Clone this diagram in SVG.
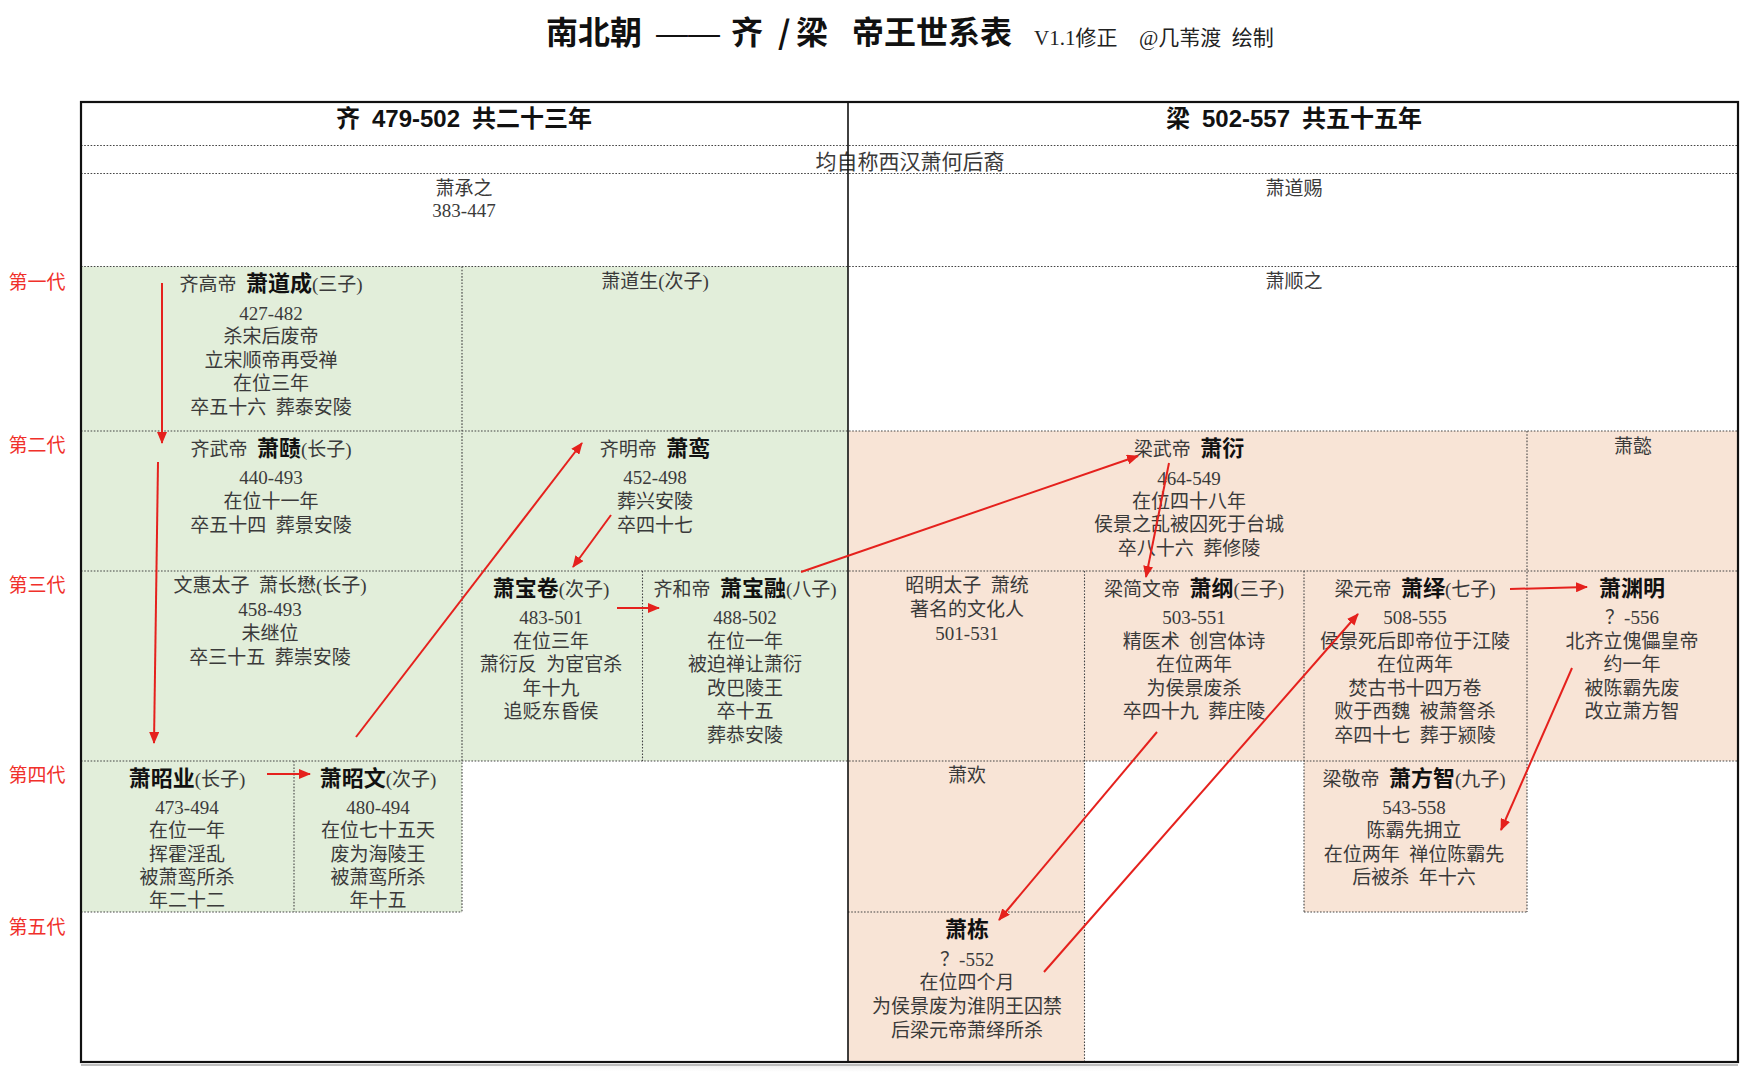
<svg xmlns="http://www.w3.org/2000/svg" width="1755" height="1080" viewBox="0 0 1755 1080">
<defs>
<style>
.t{font-family:"Liberation Serif","Noto Sans CJK SC",serif;font-size:19px;fill:#3a3a3a;text-anchor:middle}
.b{font-family:"Noto Sans CJK SC",sans-serif;font-weight:700;font-size:22px;fill:#111}
.g{font-family:"Noto Sans CJK SC",sans-serif;font-size:19px;fill:#f0302a;text-anchor:middle}
.h{font-family:"Liberation Sans","Noto Sans CJK SC",sans-serif;font-weight:700;font-size:24px;fill:#111;text-anchor:middle}
.ti{font-family:"Noto Sans CJK SC",sans-serif;font-weight:700;font-size:32px;fill:#111}
.st{font-family:"Liberation Serif","Noto Sans CJK SC",serif;font-size:21px;fill:#222}
.dot{stroke:#444;stroke-width:1.1;stroke-dasharray:1.6 1.6;fill:none}
.arr{stroke:#e5211d;stroke-width:2;fill:none;marker-end:url(#ah)}
.gr{fill:#e2eeda}
.pe{fill:#f8e4d6}
.wh{fill:#fff}
</style>
<marker id="ah" markerUnits="userSpaceOnUse" markerWidth="12" markerHeight="10" viewBox="0 0 12 10" refX="11" refY="5" orient="auto">
<path d="M0,0 L12,5 L0,10 z" fill="#e5211d"/>
</marker>
<radialGradient id="sh" cx="0.5" cy="0" r="0.5">
<stop offset="0" stop-color="#e9e9e9"/>
<stop offset="1" stop-color="#ffffff"/>
</radialGradient>
</defs>
<rect width="1755" height="1080" fill="#fff"/>
<rect x="300" y="1064" width="1150" height="16" fill="url(#sh)"/>

<g id="title">
<text class="ti" y="44"><tspan x="546">南北朝</tspan><tspan x="656" style="font-family:'Liberation Sans',sans-serif;font-weight:400">——</tspan><tspan x="731">齐</tspan><tspan x="778">/</tspan><tspan x="796">梁</tspan><tspan x="852">帝王世系表</tspan></text>
<text class="st" y="45"><tspan x="1034">V1.1修正</tspan><tspan x="1139">@几苇渡&#8194;绘制</tspan></text>
</g>

<g id="generations">
<text class="g" x="37" y="289">第一代</text>
<text class="g" x="37" y="452">第二代</text>
<text class="g" x="37" y="592">第三代</text>
<text class="g" x="37" y="782">第四代</text>
<text class="g" x="37" y="934">第五代</text>
</g>

<g id="headers">
<text class="h" x="464" y="127">齐&#8194;479-502&#8194;共二十三年</text>
<text class="h" x="1294" y="127">梁&#8194;502-557&#8194;共五十五年</text>
<text class="t" x="910" y="169" style="font-size:21px">均自称西汉萧何后裔</text>
</g>

<g id="n-xiaochengzhi">
<rect class="wh" x="81" y="173.5" width="767" height="93"/>
<text class="t" x="464" y="195">萧承之</text>
<text class="t" x="464" y="217">383-447</text>
</g>
<g id="n-xiaodaoci">
<rect class="wh" x="848" y="173.5" width="890" height="93"/>
<text class="t" x="1294" y="195">萧道赐</text>
</g>

<g id="n-xiaodaocheng">
<rect class="gr" x="81" y="266.5" width="381" height="164.5"/>
<text class="t" x="271" y="291">齐高帝&#8194;<tspan class="b">萧道成</tspan>(三子)</text>
<text class="t" x="271" y="319.5">427-482</text>
<text class="t" x="271" y="343">杀宋后废帝</text>
<text class="t" x="271" y="366.5">立宋顺帝再受禅</text>
<text class="t" x="271" y="390">在位三年</text>
<text class="t" x="271" y="413.5">卒五十六&#8194;葬泰安陵</text>
</g>
<g id="n-xiaodaosheng">
<rect class="gr" x="462" y="266.5" width="386" height="164.5"/>
<text class="t" x="655" y="288">萧道生(次子)</text>
</g>
<g id="n-xiaoshunzhi">
<rect class="wh" x="848" y="266.5" width="890" height="164.5"/>
<text class="t" x="1294" y="288">萧顺之</text>
</g>

<g id="n-xiaoze">
<rect class="gr" x="81" y="431" width="381" height="140"/>
<text class="t" x="271" y="455.5">齐武帝&#8194;<tspan class="b">萧赜</tspan>(长子)</text>
<text class="t" x="271" y="484">440-493</text>
<text class="t" x="271" y="507.5">在位十一年</text>
<text class="t" x="271" y="531.5">卒五十四&#8194;葬景安陵</text>
</g>
<g id="n-xiaoluan">
<rect class="gr" x="462" y="431" width="386" height="140"/>
<text class="t" x="655" y="455.5">齐明帝&#8194;<tspan class="b">萧鸾</tspan></text>
<text class="t" x="655" y="484">452-498</text>
<text class="t" x="655" y="507.5">葬兴安陵</text>
<text class="t" x="655" y="531.5">卒四十七</text>
</g>
<g id="n-xiaoyan">
<rect class="pe" x="848" y="431" width="679" height="140"/>
<text class="t" x="1189" y="456">梁武帝&#8194;<tspan class="b">萧衍</tspan></text>
<text class="t" x="1189" y="484.5">464-549</text>
<text class="t" x="1189" y="508">在位四十八年</text>
<text class="t" x="1189" y="531">侯景之乱被囚死于台城</text>
<text class="t" x="1189" y="554.5">卒八十六&#8194;葬修陵</text>
</g>
<g id="n-xiaoyi">
<rect class="pe" x="1527" y="431" width="211" height="140"/>
<text class="t" x="1633" y="453">萧懿</text>
</g>

<g id="n-xiaochangmao">
<rect class="gr" x="81" y="571" width="381" height="190"/>
<text class="t" x="270" y="592">文惠太子&#8194;萧长懋(长子)</text>
<text class="t" x="270" y="616">458-493</text>
<text class="t" x="270" y="639.5">未继位</text>
<text class="t" x="270" y="663.5">卒三十五&#8194;葬崇安陵</text>
</g>
<g id="n-xiaobaojuan">
<rect class="gr" x="462" y="571" width="180.5" height="190"/>
<text class="t" x="551" y="596"><tspan class="b">萧宝卷</tspan>(次子)</text>
<text class="t" x="551" y="624">483-501</text>
<text class="t" x="551" y="647.5">在位三年</text>
<text class="t" x="551" y="671">萧衍反&#8194;为宦官杀</text>
<text class="t" x="551" y="694.5">年十九</text>
<text class="t" x="551" y="718">追贬东昏侯</text>
</g>
<g id="n-xiaobaorong">
<rect class="gr" x="642.5" y="571" width="205.5" height="190"/>
<text class="t" x="745" y="596">齐和帝&#8194;<tspan class="b">萧宝融</tspan>(八子)</text>
<text class="t" x="745" y="624">488-502</text>
<text class="t" x="745" y="647.5">在位一年</text>
<text class="t" x="745" y="671">被迫禅让萧衍</text>
<text class="t" x="745" y="694.5">改巴陵王</text>
<text class="t" x="745" y="718">卒十五</text>
<text class="t" x="745" y="741.5">葬恭安陵</text>
</g>
<g id="n-xiaotong">
<rect class="pe" x="848" y="571" width="236.5" height="190"/>
<text class="t" x="967" y="592">昭明太子&#8194;萧统</text>
<text class="t" x="967" y="616">著名的文化人</text>
<text class="t" x="967" y="639.5">501-531</text>
</g>
<g id="n-xiaogang">
<rect class="pe" x="1084.5" y="571" width="219.5" height="190"/>
<text class="t" x="1194" y="596">梁简文帝&#8194;<tspan class="b">萧纲</tspan>(三子)</text>
<text class="t" x="1194" y="624">503-551</text>
<text class="t" x="1194" y="647.5">精医术&#8194;创宫体诗</text>
<text class="t" x="1194" y="671">在位两年</text>
<text class="t" x="1194" y="694.5">为侯景废杀</text>
<text class="t" x="1194" y="718">卒四十九&#8194;葬庄陵</text>
</g>
<g id="n-xiaoyi-yuandi">
<rect class="pe" x="1304" y="571" width="223" height="190"/>
<text class="t" x="1415" y="596">梁元帝&#8194;<tspan class="b">萧绎</tspan>(七子)</text>
<text class="t" x="1415" y="624">508-555</text>
<text class="t" x="1415" y="647.5">侯景死后即帝位于江陵</text>
<text class="t" x="1415" y="671">在位两年</text>
<text class="t" x="1415" y="694.5">焚古书十四万卷</text>
<text class="t" x="1415" y="718">败于西魏&#8194;被萧詧杀</text>
<text class="t" x="1415" y="741.5">卒四十七&#8194;葬于颍陵</text>
</g>
<g id="n-xiaoyuanming">
<rect class="pe" x="1527" y="571" width="211" height="190"/>
<text class="t" x="1632" y="596"><tspan class="b">萧渊明</tspan></text>
<text class="t" x="1632" y="624">？-556</text>
<text class="t" x="1632" y="647.5">北齐立傀儡皇帝</text>
<text class="t" x="1632" y="671">约一年</text>
<text class="t" x="1632" y="694.5">被陈霸先废</text>
<text class="t" x="1632" y="718">改立萧方智</text>
</g>

<g id="n-xiaozhaoye">
<rect class="gr" x="81" y="761" width="213" height="151"/>
<text class="t" x="187" y="785.5"><tspan class="b">萧昭业</tspan>(长子)</text>
<text class="t" x="187" y="813.5">473-494</text>
<text class="t" x="187" y="837">在位一年</text>
<text class="t" x="187" y="860.5">挥霍淫乱</text>
<text class="t" x="187" y="884">被萧鸾所杀</text>
<text class="t" x="187" y="907">年二十二</text>
</g>
<g id="n-xiaozhaowen">
<rect class="gr" x="294" y="761" width="168" height="151"/>
<text class="t" x="378" y="785.5"><tspan class="b">萧昭文</tspan>(次子)</text>
<text class="t" x="378" y="813.5">480-494</text>
<text class="t" x="378" y="837">在位七十五天</text>
<text class="t" x="378" y="860.5">废为海陵王</text>
<text class="t" x="378" y="884">被萧鸾所杀</text>
<text class="t" x="378" y="907">年十五</text>
</g>
<g id="n-xiaohuan">
<rect class="pe" x="848" y="761" width="236.5" height="151"/>
<text class="t" x="967" y="782">萧欢</text>
</g>
<g id="n-xiaofangzhi">
<rect class="pe" x="1304" y="761" width="223" height="151"/>
<text class="t" x="1414" y="785.5">梁敬帝&#8194;<tspan class="b">萧方智</tspan>(九子)</text>
<text class="t" x="1414" y="813.5">543-558</text>
<text class="t" x="1414" y="837">陈霸先拥立</text>
<text class="t" x="1414" y="860.5">在位两年&#8194;禅位陈霸先</text>
<text class="t" x="1414" y="884">后被杀&#8194;年十六</text>
</g>

<g id="n-xiaodong">
<rect class="pe" x="848" y="912" width="236.5" height="150"/>
<text class="t" x="967" y="937"><tspan class="b">萧栋</tspan></text>
<text class="t" x="967" y="965.5">？-552</text>
<text class="t" x="967" y="989">在位四个月</text>
<text class="t" x="967" y="1013">为侯景废为淮阴王囚禁</text>
<text class="t" x="967" y="1036.5">后梁元帝萧绎所杀</text>
</g>

<g id="grid">
<path class="dot" d="M81,145.5H1738 M81,173.5H1738 M81,266.5H1738 M81,431H1738 M81,571H1738 M81,761H1738 M81,912H462 M848,912H1084.5 M1304,912H1527"/>
<path class="dot" d="M462,266.5V912 M642.5,571V761 M294,761V912 M1084.5,571V1062 M1304,571V912 M1527,431V912"/>
<line x1="848" y1="102" x2="848" y2="1062" stroke="#111" stroke-width="1.6"/>
<rect x="81" y="102" width="1657" height="960" fill="none" stroke="#111" stroke-width="2.2"/>
<line x1="81" y1="1065" x2="1738" y2="1065" stroke="#aaa" stroke-width="1.5"/>
</g>

<g id="connectors">
<path class="arr" d="M162,283 L162,443"/>
<path class="arr" d="M158,462 L154,743"/>
<path class="arr" d="M267,774 L310,774"/>
<path class="arr" d="M356,737 L582,443"/>
<path class="arr" d="M611,515 L573,567"/>
<path class="arr" d="M617,608 L659,608"/>
<path class="arr" d="M801,572 L1138,456"/>
<path class="arr" d="M1169,463 L1146,577"/>
<path class="arr" d="M1157,732 L999,920"/>
<path class="arr" d="M1044,972 L1358,614"/>
<path class="arr" d="M1510,589 L1587,587"/>
<path class="arr" d="M1572,668 L1501,830"/>
</g>
</svg>
